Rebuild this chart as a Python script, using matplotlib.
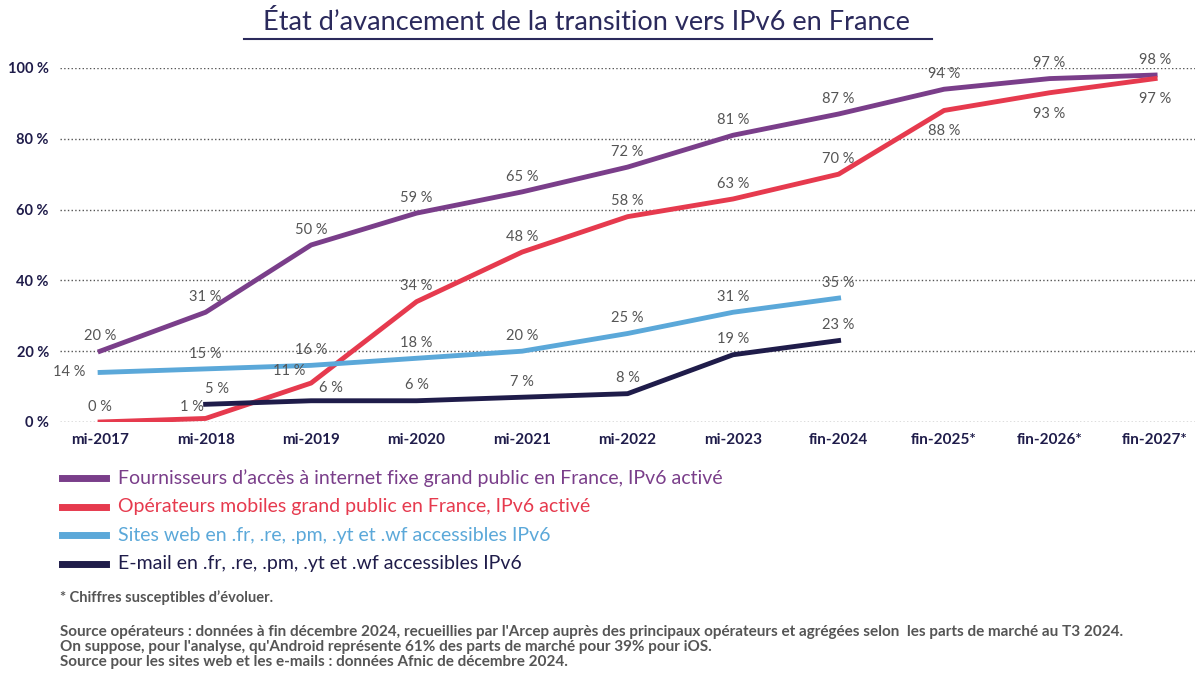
import matplotlib.pyplot as plt
from matplotlib.lines import Line2D

plt.rcParams["font.family"] = "Lato"

categories = ["mi-2017", "mi-2018", "mi-2019", "mi-2020", "mi-2021", "mi-2022",
              "mi-2023", "fin-2024", "fin-2025*", "fin-2026*", "fin-2027*"]
fixe = [20, 31, 50, 59, 65, 72, 81, 87, 94, 97, 98]
mobile = [0, 1, 11, 34, 48, 58, 63, 70, 88, 93, 97]
web = [14, 15, 16, 18, 20, 25, 31, 35]
email = [5, 6, 6, 7, 8, 19, 23]  # starts at mi-2018

c_fixe = "#7a3e8a"
c_mob = "#e63a4e"
c_web = "#5ba8d9"
c_mail = "#1f1c4a"
txt = "#555555"

fig = plt.figure(figsize=(12, 6.79), dpi=100)
ax = fig.add_axes([0.05, 0.3785, 0.946, 0.5214])
ax.set_xlim(-0.38, 10.38)
ax.set_ylim(0, 100)

x_all = list(range(len(categories)))
ax.plot(x_all, fixe, color=c_fixe, lw=3.5, zorder=3)
ax.plot(x_all, mobile, color=c_mob, lw=3.5, zorder=3)
ax.plot(x_all[:len(web)], web, color=c_web, lw=3.5, zorder=3)
ax.plot(x_all[1:1 + len(email)], email, color=c_mail, lw=3.5, zorder=3)

def lab(x, y, v, dx=0, dy=11):
    ax.annotate(f"{v} %", (x, y), xytext=(dx, dy), textcoords="offset points",
                ha="center", va="center", fontsize=10.5, color=txt)

for i, v in enumerate(fixe):
    lab(i, v, v)
for i, v in enumerate(mobile):
    if i == 1:
        lab(i, v, v, dx=-10, dy=8)
    elif i == 2:
        lab(i, v, v, dx=-16, dy=9)
    elif i >= 8:
        lab(i, v, v, dy=-15)
    else:
        lab(i, v, v)
for i, v in enumerate(web):
    if i == 0:
        lab(i, v, v, dx=-22, dy=0)
    else:
        lab(i, v, v)
for i, v in enumerate(email):
    if i == 0:
        lab(i + 1, v, v, dx=8)
    elif i == 1:
        lab(i + 1, v, v, dx=14, dy=9)
    else:
        lab(i + 1, v, v)

ax.set_yticks(range(0, 101, 20))
ax.set_yticklabels([f"{v} %" for v in range(0, 101, 20)], fontsize=10.5,
                   fontweight="bold", color=c_mail)
ax.set_xticks(x_all)
ax.set_xticklabels(categories, fontsize=11, fontweight="bold", color=c_mail)
ax.tick_params(length=0, pad=8)
ax.grid(axis="y", linestyle=":", color="#555555", lw=1)
for s in ax.spines.values():
    s.set_visible(False)

fig.text(0.489, 0.967, "État d’avancement de la transition vers IPv6 en France",
         ha="center", va="center", fontsize=19.5, color="#2b2a5c")
fig.add_artist(Line2D([0.203, 0.777], [0.943, 0.943], color="#2b2a5c", lw=1.5))

legend = [("Fournisseurs d’accès à internet fixe grand public en France, IPv6 activé", c_fixe),
          ("Opérateurs mobiles grand public en France, IPv6 activé", c_mob),
          ("Sites web en .fr, .re, .pm, .yt et .wf accessibles IPv6", c_web),
          ("E-mail en .fr, .re, .pm, .yt et .wf accessibles IPv6", c_mail)]
for k, (t, c) in enumerate(legend):
    y = 1 - (478 + 28.5 * k) / 679
    fig.add_artist(Line2D([0.052, 0.088], [y, y], color=c, lw=5))
    fig.text(0.098, y, t, va="center", fontsize=14, color=c)

fig.text(0.05, 1 - 598 / 679, "* Chiffres susceptibles d’évoluer.", va="center",
         fontsize=10.5, fontweight="bold", color=txt)
src = ["Source opérateurs : données à fin décembre 2024, recueillies par l'Arcep auprès des principaux opérateurs et agrégées selon  les parts de marché au T3 2024.",
       "On suppose, pour l'analyse, qu'Android représente 61% des parts de marché pour 39% pour iOS.",
       "Source pour les sites web et les e-mails : données Afnic de décembre 2024."]
for k, s in enumerate(src):
    fig.text(0.05, 1 - (632 + 15 * k) / 679, s, va="center", fontsize=11,
             fontweight="bold", color=txt)

fig.savefig("out.png", dpi=100)
